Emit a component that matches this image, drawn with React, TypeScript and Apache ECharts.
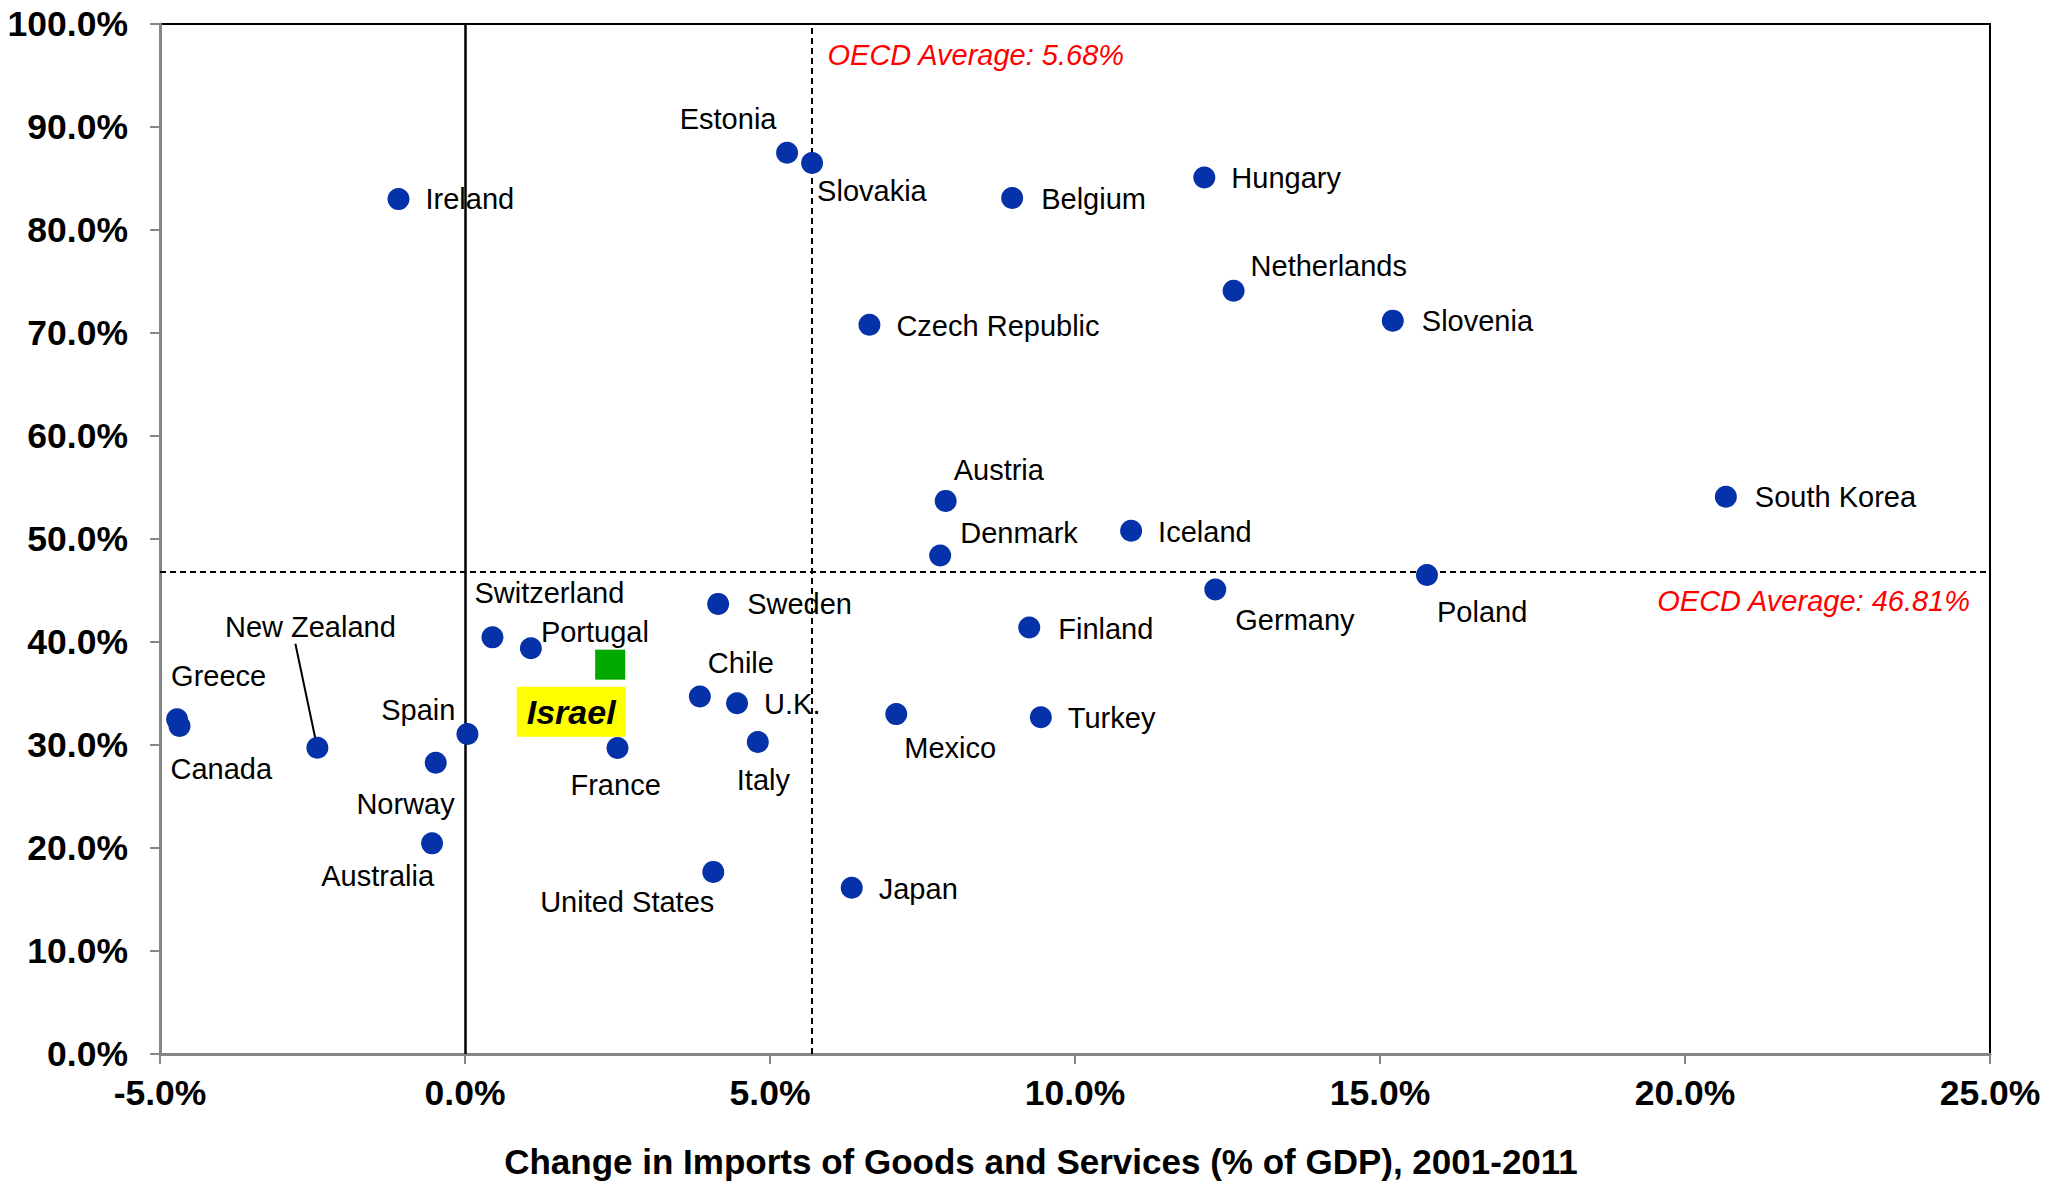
import React, { useEffect, useRef } from "react";
import * as echarts from "echarts";

// Change in imports of goods and services (% of GDP), 2001-2011, and the vertical measure (%)
const countries = [
  "Ireland", "Estonia", "Slovakia", "Belgium", "Hungary", "Netherlands", "Slovenia",
  "Czech Republic", "Austria", "South Korea", "Iceland", "Denmark", "Poland", "Germany",
  "Sweden", "Finland", "Switzerland", "Portugal", "Chile", "U.K.", "Mexico", "Turkey",
  "Italy", "France", "Spain", "Greece", "Canada", "New Zealand", "Norway", "Australia",
  "United States", "Japan",
];
const importChange = [
  -1.09, 5.28, 5.69, 8.97, 12.12, 12.6, 15.21,
  6.63, 7.88, 20.67, 10.92, 7.79, 15.77, 12.3,
  4.15, 9.25, 0.45, 1.08, 3.85, 4.46, 7.07, 9.44,
  4.8, 2.5, 0.04, -4.72, -4.68, -2.42, -0.48, -0.54,
  4.07, 6.34,
];
const yValues = [
  83.0, 87.5, 86.5, 83.1, 85.1, 74.1, 71.2,
  70.8, 53.7, 54.1, 50.8, 48.4, 46.5, 45.1,
  43.7, 41.4, 40.45, 39.4, 34.7, 34.05, 33.0, 32.7,
  30.3, 29.7, 31.07, 32.5, 31.85, 29.74, 28.28, 20.45,
  17.68, 16.15,
];

const israelName = "Israel";
const israelImportChange = 2.38;
const israelY = 37.8;

const oecdAvgImportChange = 5.68;
const oecdAvgY = 46.81;

const xMin = -5;
const xMax = 25;
const xStep = 5;
const yMin = 0;
const yMax = 100;
const yStep = 10;

// Label anchors relative to each marker centre: [dx, dy, align]
const labelPlacement: Record<string, [number, number, "left" | "center" | "right"]> = {
  Ireland: [27, 0, "left"],
  Estonia: [-59, -34, "center"],
  Slovakia: [5, 28, "left"],
  Belgium: [29, 1, "left"],
  Hungary: [27, 1, "left"],
  Netherlands: [17, -25, "left"],
  Slovenia: [29, 0, "left"],
  "Czech Republic": [27, 1, "left"],
  Austria: [8, -31, "left"],
  "South Korea": [29, 0, "left"],
  Iceland: [27, 1, "left"],
  Denmark: [20, -22, "left"],
  Poland: [10, 37, "left"],
  Germany: [20, 31, "left"],
  Sweden: [29, 0, "left"],
  Finland: [29, 1, "left"],
  Switzerland: [-18, -44, "left"],
  Portugal: [10, -16, "left"],
  Chile: [8, -34, "left"],
  "U.K.": [27, 1, "left"],
  Mexico: [8, 34, "left"],
  Turkey: [27, 1, "left"],
  Italy: [-21, 38, "left"],
  France: [-47, 37, "left"],
  Spain: [-12, -24, "right"],
  Greece: [-6, -43, "left"],
  Canada: [-9, 43, "left"],
  "New Zealand": [-7, -121, "center"],
  Norway: [19, 41, "right"],
  Australia: [2, 33, "right"],
  "United States": [1, 30, "right"],
  Japan: [27, 1, "left"],
};

const FONT = '"Liberation Sans", Arial, Helvetica, sans-serif';
const DOT = "#0531A9";
const AXIS_GREY = "#868686";

const pct = (v: number) => `${v.toFixed(1)}%`;

export default function App() {
  const ref = useRef<HTMLDivElement>(null);

  useEffect(() => {
    if (!ref.current) return;
    const chart = echarts.init(ref.current, undefined, { renderer: "svg" });

    const pointData = countries.map((name, i) => {
      const [dx, dy, align] = labelPlacement[name] ?? [27, 0, "left"];
      return {
        name,
        value: [importChange[i], yValues[i]],
        label: {
          show: true,
          position: "inside",
          offset: [dx, dy],
          align,
          verticalAlign: "middle",
          formatter: name,
        },
      };
    });

    const option: any = {
      animation: false,
      backgroundColor: "#ffffff",
      textStyle: { fontFamily: FONT },
      grid: {
        left: 160,
        top: 24,
        width: 1830,
        height: 1030,
        show: true,
        borderColor: "#000000",
        borderWidth: 2,
        backgroundColor: "transparent",
      },
      xAxis: {
        type: "value",
        min: xMin,
        max: xMax,
        interval: xStep,
        splitLine: { show: false },
        axisLine: { show: true, onZero: false, lineStyle: { color: AXIS_GREY, width: 3 } },
        axisTick: { show: true, inside: false, length: 10, lineStyle: { color: AXIS_GREY, width: 2 } },
        axisLabel: {
          margin: 21,
          formatter: (v: number) => pct(v),
          color: "#000000",
          fontFamily: FONT,
          fontWeight: "bold",
          fontSize: 35.5,
        },
      },
      yAxis: {
        type: "value",
        min: yMin,
        max: yMax,
        interval: yStep,
        splitLine: { show: false },
        axisLine: { show: true, onZero: false, lineStyle: { color: AXIS_GREY, width: 3 } },
        axisTick: { show: true, inside: false, length: 10, lineStyle: { color: AXIS_GREY, width: 2 } },
        axisLabel: {
          margin: 32,
          formatter: (v: number) => pct(v),
          color: "#000000",
          fontFamily: FONT,
          fontWeight: "bold",
          fontSize: 35.5,
        },
      },
      series: [
        {
          type: "scatter",
          name: "OECD",
          symbol: "circle",
          symbolSize: 22,
          itemStyle: { color: DOT, opacity: 1 },
          label: {
            color: "#000000",
            fontFamily: FONT,
            fontSize: 29,
          },
          emphasis: { disabled: true },
          data: pointData,
          z: 5,
          markLine: {
            silent: true,
            symbol: "none",
            animation: false,
            label: { show: false },
            data: [
              { xAxis: 0, lineStyle: { color: "#000000", width: 2.5, type: "solid" } },
              { xAxis: oecdAvgImportChange, lineStyle: { color: "#000000", width: 2, type: [6, 4] } },
              { yAxis: oecdAvgY, lineStyle: { color: "#000000", width: 2, type: [6, 4] } },
            ],
          },
        },
        {
          type: "scatter",
          name: israelName,
          symbol: "rect",
          symbolSize: 30,
          itemStyle: { color: "#00A800", opacity: 1 },
          emphasis: { disabled: true },
          z: 6,
          data: [
            {
              name: israelName,
              value: [israelImportChange, israelY],
              label: {
                show: true,
                position: "inside",
                offset: [-39, 47],
                align: "center",
                verticalAlign: "middle",
                formatter: israelName,
                color: "#000000",
                fontFamily: FONT,
                fontSize: 34,
                fontWeight: "bold",
                fontStyle: "italic",
                backgroundColor: "#FFFF00",
                padding: [8, 10, 8, 10],
              },
            },
          ],
        },
      ],
    };

    chart.setOption(option);

    // Annotations anchored to the axes through the chart's own scales
    const vTop = chart.convertToPixel({ gridIndex: 0 }, [oecdAvgImportChange, yMax]) as number[];
    const hRight = chart.convertToPixel({ gridIndex: 0 }, [xMax, oecdAvgY]) as number[];
    const nzIndex = countries.indexOf("New Zealand");
    const nz = chart.convertToPixel({ gridIndex: 0 }, [importChange[nzIndex], yValues[nzIndex]]) as number[];

    chart.setOption({
      graphic: [
        {
          type: "text",
          x: vTop[0] + 16,
          y: vTop[1] + 31,
          silent: true,
          style: {
            text: `OECD Average: ${oecdAvgImportChange.toFixed(2)}%`,
            fill: "#FF0000",
            fontFamily: FONT,
            fontSize: 29,
            fontStyle: "italic",
            align: "left",
            verticalAlign: "middle",
          },
        },
        {
          type: "text",
          x: hRight[0] - 20,
          y: hRight[1] + 29,
          silent: true,
          style: {
            text: `OECD Average: ${oecdAvgY.toFixed(2)}%`,
            fill: "#FF0000",
            fontFamily: FONT,
            fontSize: 29,
            fontStyle: "italic",
            align: "right",
            verticalAlign: "middle",
          },
        },
        {
          type: "line",
          silent: true,
          shape: { x1: nz[0] - 22, y1: nz[1] - 104, x2: nz[0] - 2, y2: nz[1] - 9 },
          style: { stroke: "#000000", lineWidth: 2 },
          z: 4,
        },
        {
          type: "text",
          x: 1041,
          y: 1161,
          silent: true,
          style: {
            text: "Change in Imports of Goods and Services (% of GDP), 2001-2011",
            fill: "#000000",
            fontFamily: FONT,
            fontSize: 35,
            fontWeight: "bold",
            align: "center",
            verticalAlign: "middle",
          },
        },
      ],
    });

    return () => {
      chart.dispose();
    };
  }, []);

  return (
    <div
      ref={ref}
      style={{ position: "fixed", left: 0, top: 0, width: 2053, height: 1181, background: "#ffffff" }}
    />
  );
}
